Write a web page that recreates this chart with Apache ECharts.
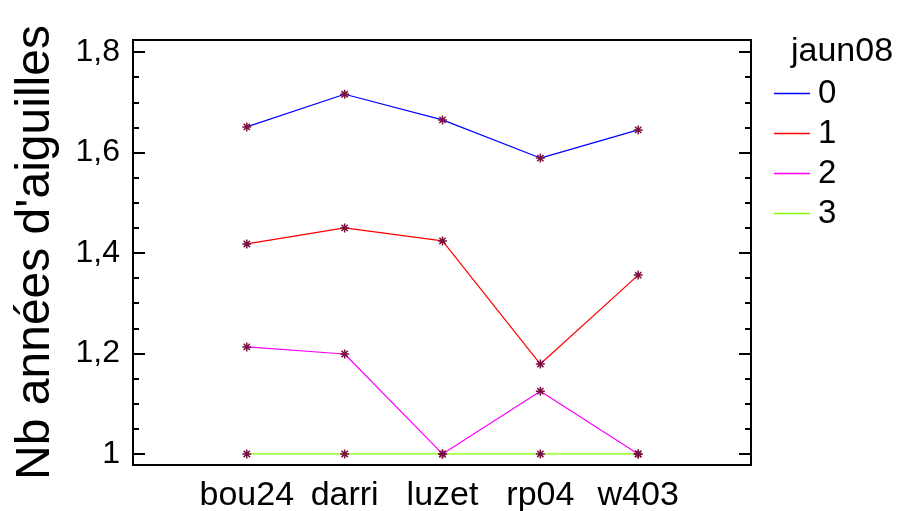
<!DOCTYPE html>
<html><head><meta charset="utf-8">
<script src="https://cdn.jsdelivr.net/npm/echarts@6/dist/echarts.min.js"></script>
<style>html,body{margin:0;padding:0;background:#fff}#c{width:902px;height:511px}</style>
</head><body><div id="c"></div>
<script>
const categories = ['bou24', 'darri', 'luzet', 'rp04', 'w403'];
const seriesNames = ['0', '1', '2', '3'];
const s0 = [1.651, 1.716, 1.665, 1.589, 1.645];
const s1 = [1.418, 1.450, 1.424, 1.179, 1.356];
const s2 = [1.213, 1.199, 1.0, 1.125, 1.0];
const s3 = [1.0, 1.0, 1.0, 1.0, 1.0];
const yMajor = [1, 1.2, 1.4, 1.6, 1.8];
const yMinor = [1.05, 1.1, 1.15, 1.25, 1.3, 1.35, 1.45, 1.5, 1.55, 1.65, 1.7, 1.75];
const colors = ['#0000ff', '#ff0000', '#ff00ff', '#80ff00'];
const values = [s0, s1, s2, s3];

const FONT = 'Liberation Sans, Arial, sans-serif';
const YMIN = 0.978, YMAX = 1.824;
const star = 'path://M0,5L10,5M5,0L5,10M1.5,1.5L8.5,8.5M8.5,1.5L1.5,8.5';

function yAxisDef(pos, ticks, len, labels) {
  return {
    type: 'value', position: pos, min: YMIN, max: YMAX,
    axisLine: {show: true, onZero: false, lineStyle: {color: '#000', width: 2}},
    axisTick: {show: true, inside: true, length: len, customValues: ticks, lineStyle: {color: '#000', width: 2}},
    axisLabel: labels ? {show: true, customValues: ticks, fontSize: 32, fontFamily: FONT, color: '#000', margin: 13,
      formatter: v => String(Math.round(v * 10) / 10).replace('.', ',')} : {show: false},
    splitLine: {show: false}
  };
}

const chart = echarts.init(document.getElementById('c'), null, {renderer: 'canvas'});
chart.setOption({
  animation: false,
  backgroundColor: '#fff',
  grid: {left: 133, right: 151, top: 40, bottom: 46, containLabel: false, outerBoundsMode: 'none',
    show: true, borderColor: '#000', borderWidth: 2},
  title: {text: 'jaun08', left: 791, top: 35, padding: 0,
    textStyle: {fontSize: 34, fontWeight: 'normal', fontFamily: FONT, color: '#000'}},
  legend: {
    orient: 'vertical', left: 774, top: 77, padding: 0, itemGap: 7, itemWidth: 36, itemHeight: 1.5,
    icon: 'rect', textStyle: {fontSize: 33, fontFamily: FONT, color: '#000', padding: [0, 0, 0, 3]},
    data: seriesNames.map((n, i) => ({name: n, itemStyle: {color: colors[i], borderWidth: 0}}))
  },
  xAxis: {
    type: 'value', min: -1.163, max: 5.153,
    axisLine: {show: true, onZero: false, lineStyle: {color: '#000', width: 2}},
    axisTick: {show: false},
    splitLine: {show: false},
    axisLabel: {show: true, customValues: [0, 1, 2, 3, 4], fontSize: 34, fontFamily: FONT, color: '#000', margin: 14,
      formatter: v => categories[Math.round(v)] || ''}
  },
  yAxis: [
    Object.assign(yAxisDef('left', yMajor, 12, true), {
      name: "Nb années d'aiguilles", nameLocation: 'middle', nameGap: 73, nameRotate: 90,
      nameTextStyle: {fontSize: 48, fontFamily: FONT, color: '#000'}
    }),
    yAxisDef('left', yMinor, 6, false),
    yAxisDef('right', yMajor, 12, false),
    yAxisDef('right', yMinor, 6, false)
  ],
  series: values.map((vals, i) => ({
    name: seriesNames[i], type: 'line', yAxisIndex: 0,
    data: vals.map((v, j) => [j, v]),
    symbol: star, symbolSize: 9, showSymbol: true,
    itemStyle: {color: colors[i], borderColor: '#7a1040', borderWidth: 1.5},
    lineStyle: {color: colors[i], width: 1.2},
    z: 10 - i
  }))
});
</script></body></html>
